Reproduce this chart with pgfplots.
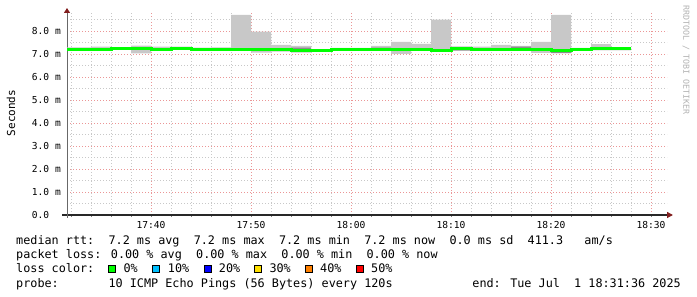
\documentclass[border=0pt]{standalone}
\usepackage{pgfplots}
\pgfplotsset{compat=1.18}
\usepackage{pgfplotstable}
\usepgfplotslibrary{fillbetween}
\usetikzlibrary{arrows.meta}
\usepackage{fontspec}
\setmainfont{DejaVu Sans Mono}
\newfontfamily\mono{DejaVu Sans Mono}
\definecolor{majorgrid}{RGB}{235,150,150}
\definecolor{minorgrid}{RGB}{200,200,200}
\definecolor{smoke}{RGB}{200,200,200}
\definecolor{smokedark}{RGB}{140,140,140}
\definecolor{median}{RGB}{0,255,0}
\definecolor{arrowred}{RGB}{130,30,30}
\definecolor{axiscol}{RGB}{40,40,40}
\definecolor{lc0}{RGB}{0,255,0}
\definecolor{lc1}{RGB}{0,192,255}
\definecolor{lc2}{RGB}{0,0,255}
\definecolor{lc3}{RGB}{255,224,0}
\definecolor{lc4}{RGB}{255,128,0}
\definecolor{lc5}{RGB}{255,0,0}

\pgfplotstableread{
x    lo   hi   dlo  dhi  med
31.6 7.15 7.29 7.20 7.20 7.20
34   7.15 7.32 7.20 7.20 7.20
36   7.18 7.28 7.25 7.25 7.25
38   7.02 7.36 7.18 7.22 7.22
40   7.15 7.32 7.20 7.20 7.20
42   7.18 7.32 7.23 7.23 7.23
44   7.15 7.27 7.20 7.20 7.20
46   7.13 7.29 7.18 7.18 7.18
48   7.13 8.70 7.15 7.20 7.20
50   7.06 7.97 7.20 7.20 7.21
52   7.10 7.39 7.21 7.21 7.21
54   7.06 7.35 7.17 7.27 7.17
56   7.14 7.20 7.17 7.17 7.17
58   7.16 7.26 7.21 7.21 7.21
60   7.16 7.26 7.21 7.21 7.21
62   7.14 7.35 7.19 7.27 7.19
64   7.00 7.53 7.21 7.21 7.21
66   7.15 7.44 7.21 7.21 7.21
68   7.12 8.49 7.17 7.17 7.17
70   7.13 7.33 7.15 7.25 7.22
72   7.16 7.32 7.21 7.21 7.21
74   7.16 7.39 7.21 7.21 7.21
76   7.14 7.35 7.20 7.32 7.20
78   7.05 7.53 7.20 7.20 7.20
80   7.04 8.70 7.04 7.17 7.17
82   7.16 7.26 7.20 7.20 7.20
84   7.16 7.43 7.24 7.24 7.24
86   7.16 7.28 7.22 7.22 7.22
88   7.16 7.28 7.22 7.22 7.22
}\smokedata

\newcommand{\legfont}{\mono\fontsize{11.8}{13}\selectfont}
\newcommand{\tickfont}{\mono\fontsize{9.6}{11}\selectfont}

\begin{document}
\begin{tikzpicture}[x=1pt,y=1pt]
\begin{axis}[
  at={(67pt,82pt)}, anchor=south west,
  scale only axis, width=600pt, height=202pt,
  xmin=31.6, xmax=91.6, ymin=0, ymax=8.78,
  axis x line*=bottom, axis y line*=left,
  x axis line style={draw=axiscol, line width=1.3pt, -{Triangle[length=6pt,width=6pt,color=arrowred]}, shorten >=-6pt, shorten <=-5pt},
  y axis line style={draw=axiscol!70, line width=1pt, -{Triangle[length=5pt,width=6pt,color=arrowred]}, shorten >=-5pt, shorten <=-3pt},
  xtick={40,50,60,70,80,90},
  xticklabels={17:40,17:50,18:00,18:10,18:20,18:30},
  minor xtick={32,34,36,38,42,44,46,48,52,54,56,58,62,64,66,68,72,74,76,78,82,84,86,88},
  ytick={0,1,2,3,4,5,6,7,8},
  yticklabels={0.0\hphantom{~m},1.0~m,2.0~m,3.0~m,4.0~m,5.0~m,6.0~m,7.0~m,8.0~m},
  minor ytick={0.5,1.5,2.5,3.5,4.5,5.5,6.5,7.5,8.5},
  grid=both,
  major grid style={draw=majorgrid, line width=0.8pt, dash pattern=on 1pt off 2pt},
  minor grid style={draw=minorgrid, line width=0.8pt, dash pattern=on 1pt off 2pt},
  tick align=outside,
  major tick length=2pt, minor tick length=2pt,
  tick style={draw=axiscol!60, line width=0.7pt},
  ytick style={draw=none},
  xticklabel style={font=\tickfont, inner sep=0pt, anchor=north, yshift=-4.5pt},
  yticklabel style={font=\tickfont, inner sep=0pt, anchor=east, xshift=-4pt},
  clip=true,
]
\addplot[draw=none, name path=hi, const plot, forget plot] table[x=x,y=hi]{\smokedata};
\addplot[draw=none, name path=lo, const plot, forget plot] table[x=x,y=lo]{\smokedata};
\addplot[draw=none, name path=dhi, const plot, forget plot] table[x=x,y=dhi]{\smokedata};
\addplot[draw=none, name path=dlo, const plot, forget plot] table[x=x,y=dlo]{\smokedata};
\addplot[fill=smoke, draw=none, forget plot] fill between[of=hi and lo];
\addplot[fill=smokedark, draw=none, forget plot] fill between[of=dhi and dlo];
\addplot[const plot, draw=median, line width=3pt, forget plot] table[x=x,y=med]{\smokedata};
\end{axis}

% y axis label
\node[rotate=90, font=\mono\fontsize{11}{12}\selectfont, inner sep=0pt] at (11,184) {Seconds};
% watermark
\node[rotate=-90, font=\mono\fontsize{8.3}{9}\selectfont, text=black!30, inner sep=0pt] at (686,237) {RRDTOOL / TOBI OETIKER};

% legend text
\node[anchor=base west, inner sep=0pt, font=\legfont] at (16,52) {median rtt:~~7.2 ms avg~~7.2 ms max~~7.2 ms min~~7.2 ms now~~0.0 ms sd~~411.3~~~am/s};
\node[anchor=base west, inner sep=0pt, font=\legfont] at (16,38) {packet loss: 0.00 \% avg~~0.00 \% max~~0.00 \% min~~0.00 \% now};
\node[anchor=base west, inner sep=0pt, font=\legfont] at (16,24) {loss color:};
\foreach \bx/\tx/\col/\lab in {108.3/123.3/lc0/0\%, 152.7/167.7/lc1/10\%, 204/218.7/lc2/20\%, 254.5/269.3/lc3/30\%, 305/320/lc4/40\%, 356/371/lc5/50\%}{
  \draw[fill=\col, draw=black, line width=0.8pt] (\bx,24.3) rectangle ++(7,7);
  \node[anchor=base west, inner sep=0pt, font=\legfont] at (\tx,24) {\lab};
}
\node[anchor=base west, inner sep=0pt, font=\legfont] at (16,9) {probe:~~~~~~~10 ICMP Echo Pings (56 Bytes) every 120s};
\node[anchor=base east, inner sep=0pt, font=\legfont] at (681,9) {end: Tue Jul~~1 18:31:36 2025};
\pgfresetboundingbox
\path[use as bounding box] (0,0) rectangle (697,297);
\end{tikzpicture}
\end{document}
